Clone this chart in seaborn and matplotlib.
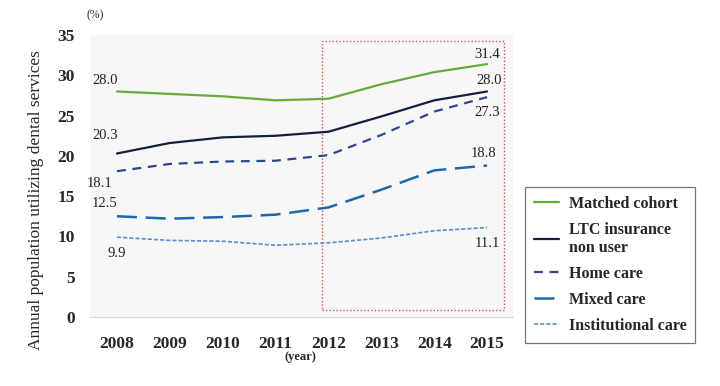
import pandas as pd
import matplotlib
matplotlib.use('Agg')
import matplotlib.pyplot as plt
from matplotlib.patches import Rectangle
from matplotlib.lines import Line2D
import seaborn as sns

years = [2008, 2009, 2010, 2011, 2012, 2013, 2014, 2015]
matched_cohort = [28.0, 27.7, 27.4, 26.9, 27.1, 28.9, 30.4, 31.4]
ltc_non_user = [20.3, 21.6, 22.3, 22.5, 23.0, 24.9, 26.9, 28.0]
home_care = [18.1, 19.0, 19.3, 19.4, 20.1, 22.6, 25.5, 27.3]
mixed_care = [12.5, 12.2, 12.4, 12.7, 13.6, 15.8, 18.2, 18.8]
institutional_care = [9.9, 9.5, 9.4, 8.9, 9.2, 9.8, 10.7, 11.1]

series_names = ['Matched cohort', 'LTC insurance\nnon user', 'Home care',
                'Mixed care', 'Institutional care']
series_values = [matched_cohort, ltc_non_user, home_care, mixed_care, institutional_care]

# etiquetas de los extremos: (serie, indice, desplazamiento en pixeles)
end_labels = [
    (0, 0, (-12, 11)), (1, 0, (-12, 18)), (2, 0, (-17, -12)), (3, 0, (-12, 13)), (4, 0, (0, -16)),
    (0, 7, (0, 10)), (1, 7, (2, 11)), (2, 7, (0, -15)), (3, 7, (-4, 12)), (4, 7, (0, -16)),
]

rows = []
for name, vals in zip(series_names, series_values):
    for y, v in zip(years, vals):
        rows.append({'year': y, 'value': v, 'group': name})
df = pd.DataFrame(rows)

colors = {
    'Matched cohort': '#6aaa3a',
    'LTC insurance\nnon user': '#14203f',
    'Home care': '#2b4a8c',
    'Mixed care': '#1f68b0',
    'Institutional care': '#5b8fd0',
}
dashes = {
    'Matched cohort': '',
    'LTC insurance\nnon user': '',
    'Home care': (4, 3),
    'Mixed care': (8, 3.5),
    'Institutional care': (2.5, 1.2),
}
widths = {
    'Matched cohort': 1.6,
    'LTC insurance\nnon user': 1.6,
    'Home care': 1.6,
    'Mixed care': 1.8,
    'Institutional care': 1.2,
}

sns.set_style('white')
plt.rcParams['font.family'] = ['Liberation Serif', 'DejaVu Serif']

fig = plt.figure(figsize=(7.2, 3.86), dpi=100)
ax = fig.add_axes([0.125, 0.179, 0.5875, 0.730])
ax.set_facecolor('#f7f7f7')

sns.lineplot(data=df, x='year', y='value', hue='group', style='group',
             palette=colors, dashes=dashes, ax=ax, legend=False)
for line, name in zip(ax.lines, series_names):
    line.set_linewidth(widths[name])

for s, i, off in end_labels:
    ax.annotate(f'{series_values[s][i]:.1f}', (years[i], series_values[s][i]),
                xytext=off, textcoords='offset pixels', ha='center', va='center',
                fontsize=10.5, color='#222222')

ax.add_patch(Rectangle((2011.87, 0.9), 3.45, 33.4, fill=False, edgecolor='#e05050',
                       linestyle=(0, (1, 1.5)), linewidth=1.0))

ax.set_xlim(2007.49, 2015.49)
ax.set_ylim(0, 35)
ax.set_xticks(years)
ax.set_yticks(range(0, 36, 5))
ax.tick_params(axis='both', length=0, labelsize=12.5)
for lab in ax.get_xticklabels() + ax.get_yticklabels():
    lab.set_fontweight('bold')
ax.tick_params(axis='x', pad=14)
ax.tick_params(axis='y', pad=11)
for side in ['top', 'right', 'left']:
    ax.spines[side].set_visible(False)
ax.spines['bottom'].set_color('#d8d8d8')
ax.set_xlabel('')
ax.set_ylabel('Annual population utilizing dental services', fontsize=12.5)
ax.yaxis.set_label_coords(-0.108, 0.415)

fig.text(95 / 720, 1 - 15 / 386, '(%)', fontsize=8.5, ha='center', va='center')
fig.text(300 / 720, 1 - 357 / 386, '(year)', fontsize=9, ha='center', va='center',
         fontweight='bold')

handles = [Line2D([], [], color=colors[n], linewidth=widths[n],
                  linestyle=(0, dashes[n]) if dashes[n] else '-') for n in series_names]
leg = fig.legend(handles, series_names, loc='upper left', borderaxespad=0,
                 bbox_to_anchor=(525 / 720, 1 - 187 / 386), frameon=True, fancybox=False,
                 handlelength=1.6, labelspacing=0.62, borderpad=0.55,
                 handletextpad=0.6, prop={'weight': 'bold', 'size': 11.5})
leg.get_frame().set_edgecolor('#555555')
leg.get_frame().set_linewidth(0.9)

fig.savefig('out.png', dpi=100)
